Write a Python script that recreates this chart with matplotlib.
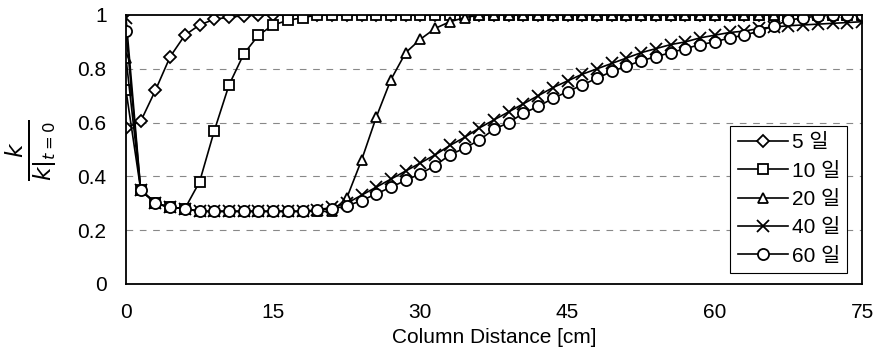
import matplotlib.pyplot as plt
import numpy as np

plt.rcParams["font.family"] = ["Liberation Sans", "Noto Sans CJK KR"]

# column distance [cm], one point every 1.5 cm
x = np.arange(51) * 1.5

k5 = [0.58, 0.605, 0.72, 0.845, 0.925, 0.963, 0.984, 0.992, 0.997] + [1.0] * 42

k10 = ([0.72, 0.35, 0.30, 0.285, 0.28, 0.38, 0.57, 0.74, 0.855, 0.925,
        0.963, 0.98, 0.99] + [1.0] * 38)

k20 = ([0.84, 0.35, 0.30, 0.285, 0.28] + [0.27] * 10 +
       [0.32, 0.46, 0.62, 0.76, 0.86, 0.91, 0.95, 0.975, 0.99] + [1.0] * 27)

k40 = ([0.99, 0.35, 0.30, 0.285, 0.28] + [0.27] * 8 +
       [0.275, 0.285, 0.30, 0.33, 0.36, 0.39, 0.42, 0.45, 0.48, 0.515,
        0.545, 0.58, 0.61, 0.64, 0.67, 0.70, 0.73, 0.755, 0.78, 0.80,
        0.82, 0.84, 0.86, 0.875, 0.89, 0.90, 0.915, 0.925, 0.935, 0.94,
        0.95, 0.955, 0.96, 0.963, 0.966, 0.969, 0.972, 0.975])

k60 = ([0.94, 0.35, 0.30, 0.285, 0.28] + [0.27] * 8 +
       [0.275, 0.28, 0.29, 0.31, 0.335, 0.36, 0.385, 0.41, 0.44, 0.48,
        0.505, 0.535, 0.575, 0.60, 0.635, 0.66, 0.69, 0.715, 0.74, 0.765,
        0.79, 0.81, 0.83, 0.845, 0.86, 0.875, 0.89, 0.90, 0.915, 0.925,
        0.94, 0.96, 0.98, 0.99, 0.995, 1.0, 1.0, 1.0])

labels = ["5 일", "10 일", "20 일", "40 일", "60 일"]
markers = ["D", "s", "^", "x", "o"]
sizes = [6, 7.5, 7, 9, 8]

fig = plt.figure(figsize=(8.78, 3.57), dpi=100)
ax = fig.add_axes([0.1435, 0.2045, 0.8383, 0.7535])

for k, lab, m, s in zip([k5, k10, k20, k40, k60], labels, markers, sizes):
    ax.plot(x, k, "-", color="black", lw=1.2, marker=m, ms=s,
            mfc="white", mec="black", mew=1.3, label=lab)

ax.set_xlim(0, 75)
ax.set_ylim(0, 1)
ax.set_xticks([0, 15, 30, 45, 60, 75])
ax.set_yticks([0, 0.2, 0.4, 0.6, 0.8, 1.0])
ax.set_yticklabels(["0", "0.2", "0.4", "0.6", "0.8", "1"])
ax.tick_params(length=0, labelsize=15)
ax.tick_params(axis="x", pad=14)
ax.tick_params(axis="y", pad=14)
for y in [0.2, 0.4, 0.6, 0.8]:
    ax.axhline(y, color="#888888", lw=0.8, ls=(0, (6, 6)), zorder=0)
for sp in ax.spines.values():
    sp.set_linewidth(1.3)

ax.set_xlabel("Column Distance [cm]", fontsize=15, labelpad=4)
fig.text(0.036, 0.58, r"$\frac{k}{k|_{t=0}}$", rotation=90, fontsize=24,
         ha="center", va="center")

leg = ax.legend(loc="lower right", bbox_to_anchor=(0.98, 0.041),
                borderaxespad=0, fancybox=False, edgecolor="black",
                framealpha=1, fontsize=15, handlelength=2.4,
                labelspacing=0.45, handletextpad=0.2, borderpad=0.35)
leg.get_frame().set_linewidth(0.8)

fig.savefig("out.png", dpi=100)
